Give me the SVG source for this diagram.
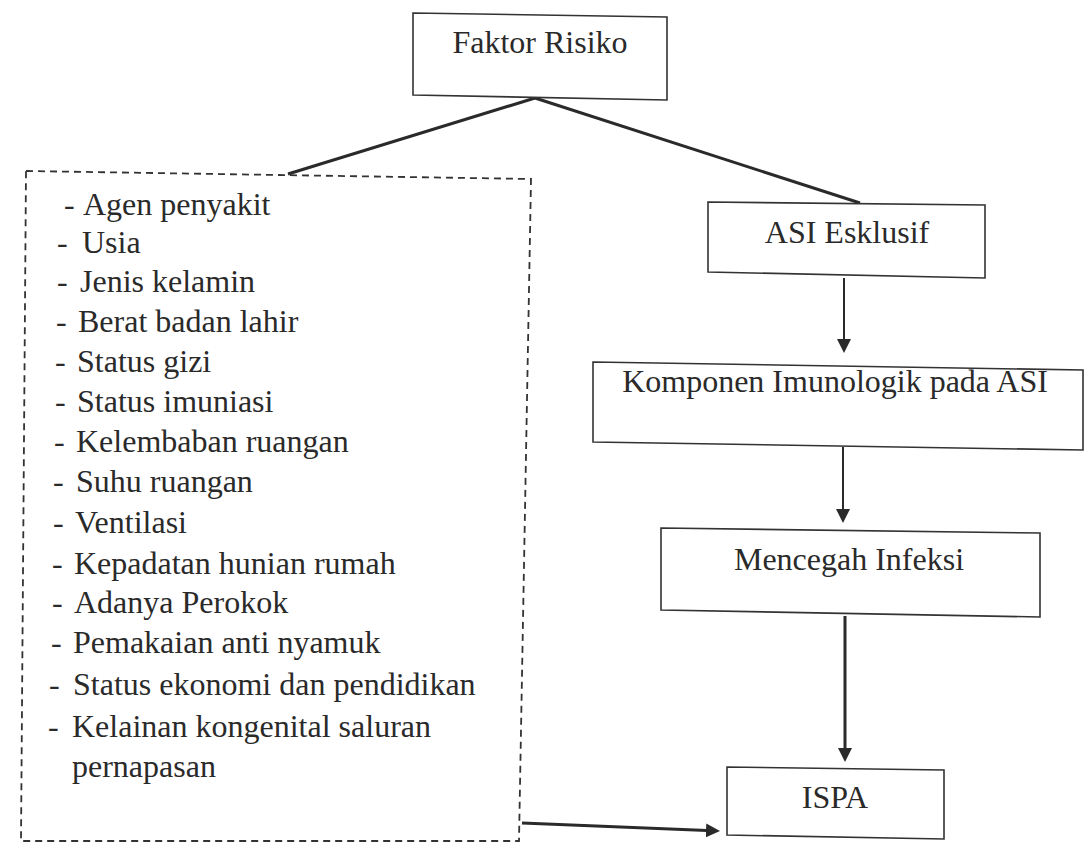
<svg xmlns="http://www.w3.org/2000/svg" width="1088" height="846" viewBox="0 0 1088 846">
  <style>
    .box { fill: #ffffff; stroke: #333333; stroke-width: 1.6; }
    .dash { fill: none; stroke: #333333; stroke-width: 1.8; stroke-dasharray: 7 5; }
    .lbl { font-family: "Liberation Serif", "Times New Roman", serif; font-size: 32px; fill: #2a2a2a; }
    .mid { text-anchor: middle; }
    .edge { fill: none; stroke: #2a2a2a; stroke-width: 2; }
    .thick { stroke-width: 3; }
  </style>
  <defs>
    <marker id="arr" viewBox="0 0 14 14" refX="1" refY="7" markerWidth="14" markerHeight="14" markerUnits="userSpaceOnUse" orient="auto">
      <path d="M0,0 L14,7 L0,14 Z" fill="#2a2a2a"/>
    </marker>
  </defs>
  <rect width="1088" height="846" fill="#ffffff"/>

  <g id="connectors">
    <path class="edge thick" d="M535,98 L288,174"/>
    <path class="edge thick" d="M535,98 L860,203"/>
    <path class="edge" d="M844,278 L844,340" marker-end="url(#arr)"/>
    <path class="edge" d="M843,447 L843,510" marker-end="url(#arr)"/>
    <path class="edge thick" d="M845,616 L845,749" marker-end="url(#arr)"/>
    <path class="edge thick" d="M522,823 L707,830.5" marker-end="url(#arr)"/>
  </g>

  <g id="faktor-risiko">
    <polygon class="box" points="413,13 667,17 667,100 413,95"/>
    <text class="lbl mid" x="540" y="53">Faktor Risiko</text>
  </g>

  <g id="daftar-faktor">
    <polygon class="dash" points="26,171 531,179 519,841 21,841"/>
    <text class="lbl" y="215"><tspan x="64">-</tspan><tspan x="83">Agen penyakit</tspan></text>
    <text class="lbl" y="253"><tspan x="57">-</tspan><tspan x="82">Usia</tspan></text>
    <text class="lbl" y="292"><tspan x="57">-</tspan><tspan x="80">Jenis kelamin</tspan></text>
    <text class="lbl" y="332"><tspan x="56">-</tspan><tspan x="78">Berat badan lahir</tspan></text>
    <text class="lbl" y="372"><tspan x="55">-</tspan><tspan x="77">Status gizi</tspan></text>
    <text class="lbl" y="412"><tspan x="55">-</tspan><tspan x="77">Status imuniasi</tspan></text>
    <text class="lbl" y="452"><tspan x="54">-</tspan><tspan x="76">Kelembaban ruangan</tspan></text>
    <text class="lbl" y="492"><tspan x="53">-</tspan><tspan x="76">Suhu ruangan</tspan></text>
    <text class="lbl" y="533"><tspan x="53">-</tspan><tspan x="75">Ventilasi</tspan></text>
    <text class="lbl" y="574"><tspan x="52">-</tspan><tspan x="74">Kepadatan hunian rumah</tspan></text>
    <text class="lbl" y="613"><tspan x="52">-</tspan><tspan x="74">Adanya Perokok</tspan></text>
    <text class="lbl" y="653"><tspan x="51">-</tspan><tspan x="73">Pemakaian anti nyamuk</tspan></text>
    <text class="lbl" y="695"><tspan x="49">-</tspan><tspan x="73">Status ekonomi dan pendidikan</tspan></text>
    <text class="lbl" y="737"><tspan x="48">-</tspan><tspan x="72">Kelainan kongenital saluran</tspan></text>
    <text class="lbl" x="72" y="777">pernapasan</text>
  </g>

  <g id="asi-esklusif">
    <polygon class="box" points="708,202 985,205 985,278 708,272"/>
    <text class="lbl mid" x="847" y="243">ASI Esklusif</text>
  </g>

  <g id="komponen-imunologik">
    <polygon class="box" points="593,362 1083,370 1083,450 593,442"/>
    <text class="lbl mid" x="835" y="392">Komponen Imunologik pada ASI</text>
  </g>

  <g id="mencegah-infeksi">
    <polygon class="box" points="661,528 1040,533 1040,617 661,610"/>
    <text class="lbl mid" x="849" y="570">Mencegah Infeksi</text>
  </g>

  <g id="ispa">
    <polygon class="box" points="727,767 944,770 944,839 727,835"/>
    <text class="lbl mid" x="835" y="808">ISPA</text>
  </g>
</svg>
